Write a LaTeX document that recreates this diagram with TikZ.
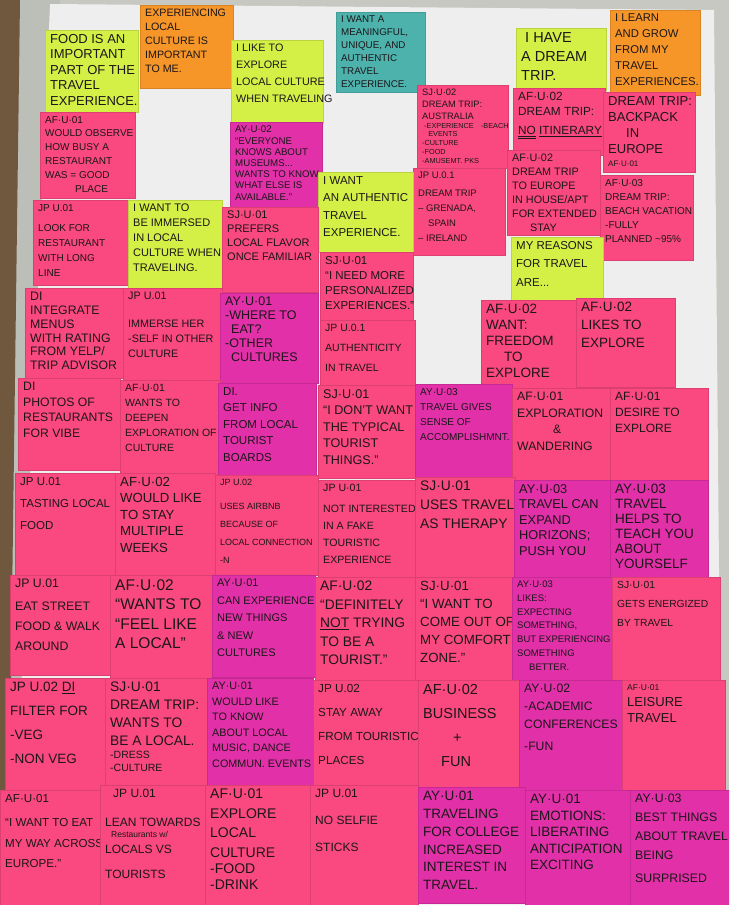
\documentclass[tikz,border=0pt]{standalone}
\usepackage{fontspec}
\setmainfont{Liberation Sans}
\usetikzlibrary{calc}
\definecolor{pinkN}{RGB}{250,72,128}
\definecolor{magN}{RGB}{226,48,168}
\definecolor{limeN}{RGB}{212,240,70}
\definecolor{orangeN}{RGB}{246,150,40}
\definecolor{tealN}{RGB}{78,178,172}
\definecolor{inkC}{RGB}{28,22,26}
\definecolor{wallC}{RGB}{200,200,194}
\definecolor{paperC}{RGB}{238,238,238}
\definecolor{woodC}{RGB}{112,88,62}
\definecolor{boardC}{RGB}{188,190,184}
\tikzset{
  notetext/.style={anchor=north west, inner sep=0pt, align=left, text=inkC},
  notepaper/.style={line width=0.3pt}
}
\newcommand{\stickynote}[7]{%
  \path[notepaper, fill=#2, draw=#2!88!black] (#3) rectangle (#4);
  \node[notetext, font=\fontsize{#5}{#6}\selectfont] (#1) at ($(#3)+(5,4)$) {#7};
}
\begin{document}
\begin{tikzpicture}[x=1pt,y=-1pt]
\useasboundingbox (0,0) rectangle (729,905);
\clip (0,0) rectangle (729,905);
% background
\fill[wallC] (0,0) rectangle (729,905);
\fill[boardC] (14,0) -- (60,0) -- (30,905) -- (4,905) -- cycle;
\fill[woodC] (0,0) -- (20,0) -- (8,905) -- (0,905) -- cycle;
\fill[paperC] (50,4) -- (714,10) -- (722,905) -- (12,905) -- cycle;

% top row headers
\stickynote{n1}{orangeN}{140,5}{233,88}{10.7}{14}{EXPERIENCING\\LOCAL\\CULTURE IS\\IMPORTANT\\TO ME.}
\stickynote{n2}{limeN}{45,30}{138,112}{13}{15.5}{FOOD IS AN\\IMPORTANT\\PART OF THE\\TRAVEL\\EXPERIENCE.}
\stickynote{n3}{limeN}{231,40}{323,123}{10.8}{17}{I LIKE TO\\EXPLORE\\LOCAL CULTURE\\WHEN TRAVELING}
\stickynote{n4}{tealN}{336,12}{425,92}{9.8}{13}{I WANT A\\MEANINGFUL,\\UNIQUE, AND\\AUTHENTIC\\TRAVEL\\EXPERIENCE.}
\stickynote{n5}{limeN}{516,28}{606,90}{14.5}{19}{\hspace{4pt}I HAVE\\A DREAM\\TRIP.}
\stickynote{n6}{orangeN}{610,10}{700,95}{11.3}{16}{I LEARN\\AND GROW\\FROM MY\\TRAVEL\\EXPERIENCES.}

% upper area
\stickynote{n7}{pinkN}{40,112}{135,198}{10}{13.8}{AF·U·01\\WOULD OBSERVE\\HOW BUSY A\\RESTAURANT\\WAS = GOOD\\\hspace{30pt}PLACE}
\stickynote{n8}{magN}{230,122}{322,207}{9.7}{11.2}{AY·U·02\\“EVERYONE\\KNOWS ABOUT\\MUSEUMS...\\WANTS TO KNOW\\WHAT ELSE IS\\AVAILABLE.”}
\stickynote{n9}{pinkN}{417,85}{508,168}{9.3}{12}{SJ·U·02\\DREAM TRIP:\\AUSTRALIA\\[-3pt]\fontsize{7.3}{8}\selectfont\ -EXPERIENCE\quad -BEACH\\[-4pt]\fontsize{7.3}{8}\selectfont\ \ \ EVENTS\\[-3pt]\fontsize{7.3}{8}\selectfont -CULTURE\\[-3pt]\fontsize{7.3}{8}\selectfont -FOOD\\[-3pt]\fontsize{7.3}{8}\selectfont -AMUSEMT. PKS}
\stickynote{n10}{pinkN}{513,88}{605,155}{11.8}{15.5}{AF·U·02\\DREAM TRIP:\\[3pt]\underline{\underline{NO}} \underline{ITINERARY}}
\stickynote{n11}{pinkN}{603,92}{695,172}{13}{16}{DREAM TRIP:\\BACKPACK\\\hspace{18pt}IN\\EUROPE\\[-3pt]\fontsize{8}{9}\selectfont AF·U·01}
\stickynote{n12}{pinkN}{413,168}{505,255}{9.5}{15}{JP U.0.1\\[3pt]DREAM TRIP\\– GRENADA,\\\hspace{10pt}SPAIN\\– IRELAND}
\stickynote{n13}{pinkN}{507,150}{600,235}{10.8}{14}{AF·U·02\\DREAM TRIP\\TO EUROPE\\IN HOUSE/APT\\FOR EXTENDED\\\hspace{18pt}STAY}
\stickynote{n14}{pinkN}{600,175}{693,260}{10}{14}{AF·U·03\\DREAM TRIP:\\BEACH VACATION\\ -FULLY\\PLANNED \textasciitilde 95\%}
\stickynote{n15}{limeN}{318,172}{413,252}{11.5}{17.5}{I WANT\\AN AUTHENTIC\\TRAVEL\\EXPERIENCE.}
\stickynote{n16}{pinkN}{33,200}{128,285}{10}{15}{JP U.01\\[5pt]LOOK FOR\\RESTAURANT\\WITH LONG\\LINE}
\stickynote{n17}{limeN}{128,200}{222,290}{11}{15}{I WANT TO\\BE IMMERSED\\IN LOCAL\\CULTURE WHEN\\TRAVELING.}
\stickynote{n18}{pinkN}{222,207}{318,292}{11}{14}{SJ·U·01\\PREFERS\\LOCAL FLAVOR\\ONCE FAMILIAR}
\stickynote{n19}{pinkN}{320,252}{413,320}{11.5}{15}{SJ·U·01\\“I NEED MORE\\PERSONALIZED\\EXPERIENCES.”}
\stickynote{n20}{limeN}{511,237}{603,300}{11.5}{18.5}{MY REASONS\\FOR TRAVEL\\ARE...}

% middle rows
\stickynote{n21}{pinkN}{25,288}{123,378}{12.3}{13.8}{DI\\INTEGRATE\\MENUS\\WITH RATING\\FROM YELP/\\TRIP ADVISOR}
\stickynote{n22}{pinkN}{123,288}{222,380}{10.8}{15}{JP U.01\\[13pt]IMMERSE HER\\-SELF IN OTHER\\CULTURE}
\stickynote{n23}{magN}{220,293}{318,383}{12.5}{14}{AY·U·01\\-WHERE TO\\\hspace{6pt}EAT?\\-OTHER\\\hspace{6pt}CULTURES}
\stickynote{n24}{pinkN}{320,320}{415,385}{10.5}{20}{JP U.0.1\\AUTHENTICITY\\IN TRAVEL}
\stickynote{n25}{pinkN}{481,300}{578,388}{13.5}{16}{AF·U·02\\WANT:\\FREEDOM\\\hspace{18pt}TO\\EXPLORE}
\stickynote{n26}{pinkN}{576,298}{675,387}{13.5}{18}{AF·U·02\\LIKES TO\\EXPLORE}
\stickynote{n27}{pinkN}{18,378}{120,470}{12.2}{15.5}{DI\\PHOTOS OF\\RESTAURANTS\\FOR VIBE}
\stickynote{n28}{pinkN}{120,380}{220,475}{10.5}{15}{AF·U·01\\WANTS TO\\DEEPEN\\EXPLORATION OF\\CULTURE}
\stickynote{n29}{magN}{218,383}{316,475}{11.5}{16.5}{DI.\\GET INFO\\FROM LOCAL\\TOURIST\\BOARDS}
\stickynote{n30}{pinkN}{318,385}{415,478}{12.6}{16.5}{SJ·U·01\\“I DON'T WANT\\THE TYPICAL\\TOURIST\\THINGS.”}
\stickynote{n31}{magN}{415,384}{512,478}{10}{15}{AY·U·03\\TRAVEL GIVES\\SENSE OF\\ACCOMPLISHMNT.}
\stickynote{n32}{pinkN}{512,388}{610,480}{12.2}{16.5}{AF·U·01\\EXPLORATION\\\hspace{36pt}\&\\WANDERING}
\stickynote{n33}{pinkN}{610,388}{708,480}{12}{16}{AF·U·01\\DESIRE TO\\EXPLORE}
\stickynote{n34}{pinkN}{15,473}{118,575}{11.5}{22}{JP U.01\\TASTING LOCAL\\FOOD}
\stickynote{n35}{pinkN}{115,473}{215,575}{13.2}{16.5}{AF·U·02\\WOULD LIKE\\TO STAY\\MULTIPLE\\WEEKS}
\stickynote{n36}{pinkN}{215,475}{318,575}{9}{18}{JP U.02\\[6pt]USES AIRBNB\\BECAUSE OF\\LOCAL CONNECTION\\-N}
\stickynote{n37}{pinkN}{318,480}{415,580}{10.6}{17}{JP U·01\\[4pt]NOT INTERESTED\\IN A FAKE\\TOURISTIC\\EXPERIENCE}
\stickynote{n38}{pinkN}{415,477}{515,578}{13.8}{19}{SJ·U·01\\USES TRAVEL\\AS THERAPY}
\stickynote{n39}{magN}{514,480}{610,577}{12.8}{15.5}{AY·U·03\\TRAVEL CAN\\EXPAND\\HORIZONS;\\PUSH YOU}
\stickynote{n40}{magN}{610,480}{708,578}{13.5}{15}{AY·U·03\\TRAVEL\\HELPS TO\\TEACH YOU\\ABOUT\\YOURSELF}
\stickynote{n41}{pinkN}{10,575}{112,675}{12.3}{20}{JP U.01\\[3pt]EAT STREET\\FOOD \& WALK\\AROUND}
\stickynote{n42}{pinkN}{110,575}{213,680}{15.5}{19.5}{AF·U·02\\“WANTS TO\\“FEEL LIKE\\A LOCAL”}
\stickynote{n43}{magN}{212,575}{315,677}{11}{17.5}{AY·U·01\\CAN EXPERIENCE\\NEW THINGS\\\& NEW\\CULTURES}
\stickynote{n44}{pinkN}{315,577}{415,680}{13.8}{18.5}{AF·U·02\\“DEFINITELY\\\underline{NOT} TRYING\\TO BE A\\TOURIST.”}
\stickynote{n45}{pinkN}{415,577}{513,680}{13.3}{18}{SJ·U·01\\“I WANT TO\\COME OUT OF\\MY COMFORT\\ZONE.”}
\stickynote{n46}{magN}{512,577}{613,682}{9.5}{13.7}{AY·U·03\\LIKES:\\EXPECTING\\SOMETHING,\\BUT EXPERIENCING\\SOMETHING\\\hspace{12pt}BETTER.}
\stickynote{n47}{pinkN}{612,577}{720,682}{10.3}{19}{SJ·U·01\\GETS ENERGIZED\\BY TRAVEL}

% lower rows
\stickynote{n48}{pinkN}{5,678}{105,790}{13.5}{24}{JP U.02 \underline{DI}\\FILTER FOR\\-VEG\\-NON VEG}
\stickynote{n49}{pinkN}{105,678}{208,785}{13.8}{18}{SJ·U·01\\DREAM TRIP:\\WANTS TO\\BE A LOCAL.\\[-5pt]\fontsize{10.5}{10}\selectfont -DRESS\\[-5pt]\fontsize{10.5}{10}\selectfont -CULTURE}
\stickynote{n50}{magN}{207,678}{313,788}{10.8}{15.5}{AY·U·01\\WOULD LIKE\\TO KNOW\\ABOUT LOCAL\\MUSIC, DANCE\\COMMUN. EVENTS}
\stickynote{n51}{pinkN}{313,680}{418,785}{11.7}{24}{JP U.02\\STAY AWAY\\FROM TOURISTIC\\PLACES}
\stickynote{n52}{pinkN}{418,680}{520,787}{14.5}{24}{AF·U·02\\BUSINESS\\\hspace{30pt}+\\\hspace{18pt}FUN}
\stickynote{n53}{magN}{519,680}{622,790}{12.2}{18}{AY·U·02\\-ACADEMIC\\CONFERENCES\\[4pt]-FUN}
\stickynote{n54}{pinkN}{622,680}{725,790}{13}{16}{\fontsize{8.5}{9}\selectfont AF·U·01\\LEISURE\\TRAVEL}
\stickynote{n55}{pinkN}{0,790}{100,905}{11.6}{20.5}{AF·U·01\\[4pt]“I WANT TO EAT\\MY WAY ACROSS\\EUROPE.”}
\stickynote{n56}{pinkN}{100,785}{205,905}{12}{19}{\hspace{8pt}JP U.01\\[10pt]LEAN TOWARDS\\[-8pt]\fontsize{8.5}{8}\selectfont \hspace{6pt}Restaurants w/\\[-3pt]LOCALS VS\\[6pt]TOURISTS}
\stickynote{n57}{pinkN}{205,785}{310,905}{14}{19.5}{AF·U·01\\EXPLORE\\LOCAL\\CULTURE\\[-3pt]-FOOD\\[-4pt]-DRINK}
\stickynote{n58}{pinkN}{310,785}{418,905}{12}{27}{JP U.01\\NO SELFIE\\STICKS}
\stickynote{n59}{magN}{418,787}{525,903}{13.5}{17.8}{AY·U·01\\TRAVELING\\FOR COLLEGE\\INCREASED\\INTEREST IN\\TRAVEL.}
\stickynote{n60}{magN}{525,790}{632,905}{13.5}{16.5}{AY·U·01\\EMOTIONS:\\LIBERATING\\ANTICIPATION\\EXCITING}
\stickynote{n61}{magN}{630,790}{735,905}{12.3}{19}{AY·U·03\\BEST THINGS\\ABOUT TRAVEL\\BEING\\[4pt]SURPRISED}
\end{tikzpicture}
\end{document}
